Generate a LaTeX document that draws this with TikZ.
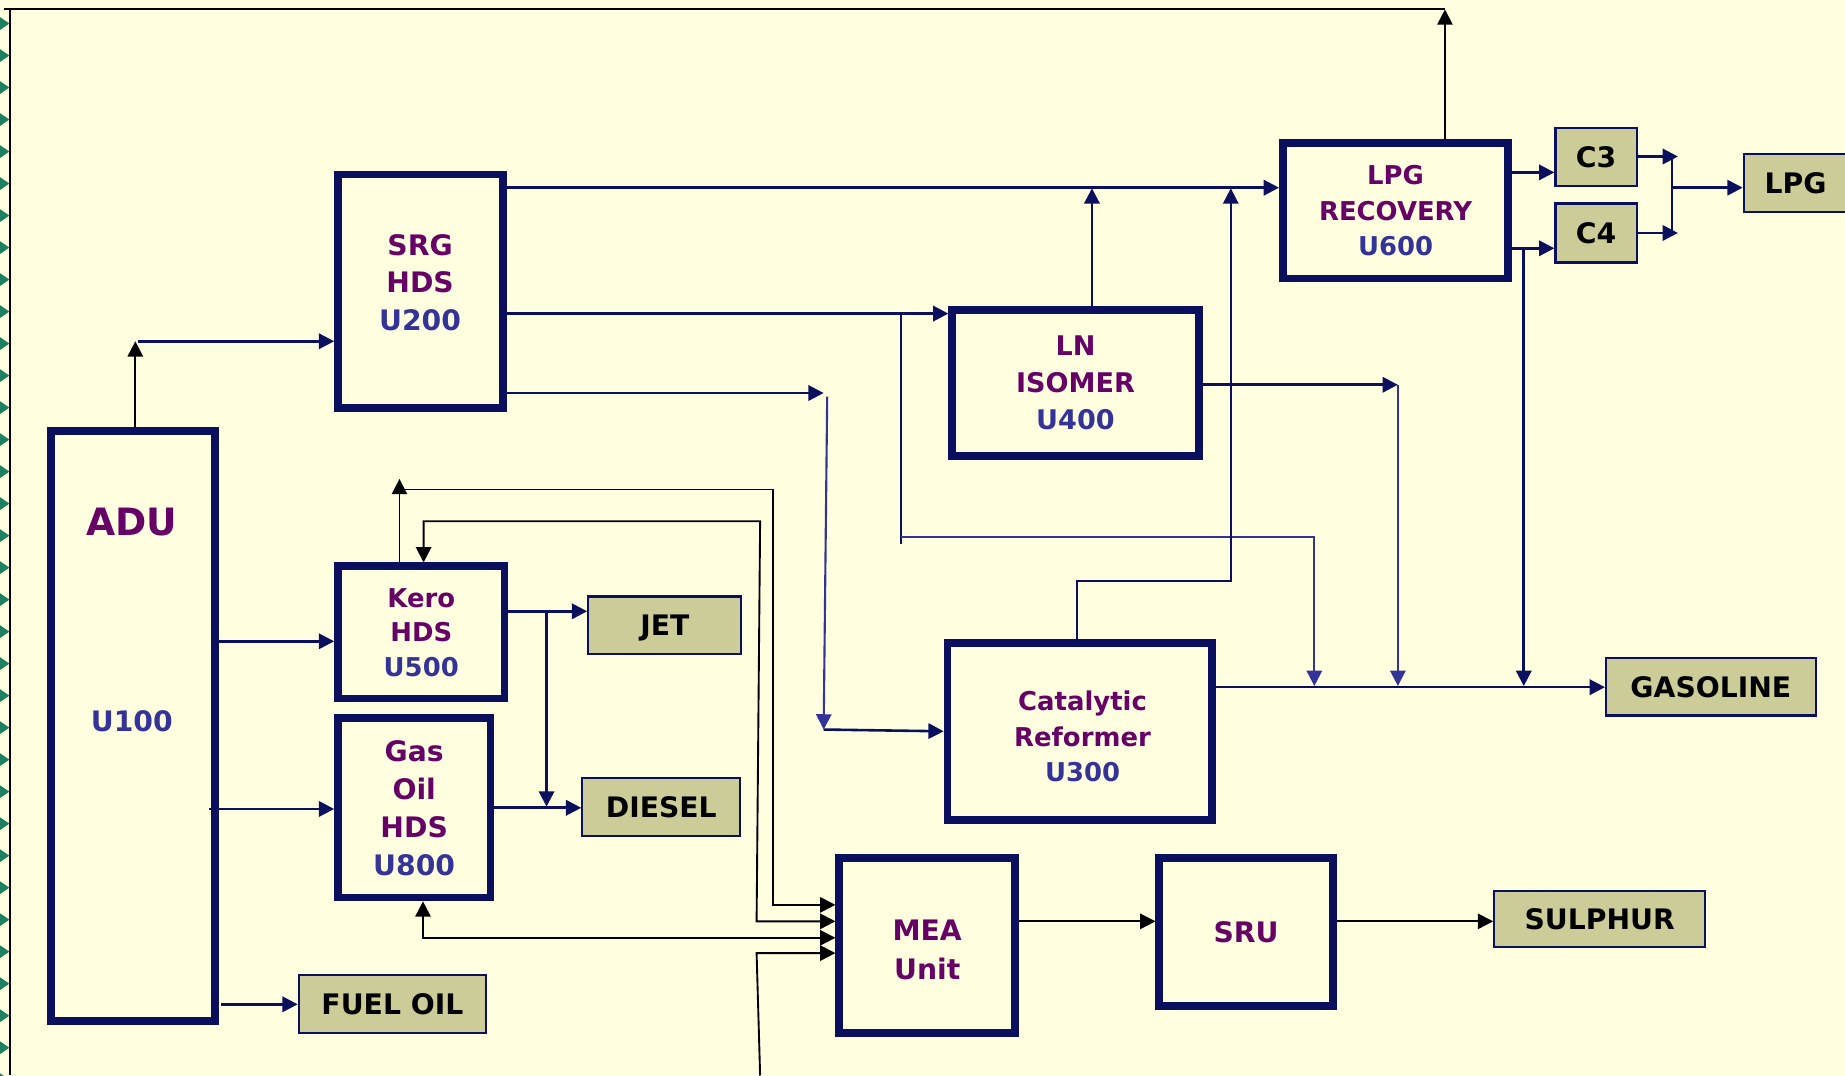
\documentclass[tikz,border=0pt]{standalone}
\usepackage{fontspec}
\setmainfont{DejaVu Sans}
\usetikzlibrary{arrows.meta}
\definecolor{bgc}{RGB}{255,255,224}
\definecolor{navy}{RGB}{10,16,94}
\definecolor{lblue}{RGB}{51,51,153}
\definecolor{purp}{RGB}{102,0,102}
\definecolor{ublue}{RGB}{51,51,153}
\definecolor{khaki}{RGB}{204,204,153}
\definecolor{chev}{RGB}{30,128,96}
\newcommand\myfs[2]{\fontsize{#1}{#2}\selectfont\bfseries}
\begin{document}
\begin{tikzpicture}[x=1pt,y=-1pt,
  unitbox/.style={draw=navy,line width=6.5pt,inner sep=0pt,align=center,text=purp},
  prodbox/.style={draw=navy,line width=1.8pt,fill=khaki,inner sep=0pt,text=black,text depth=0pt,font=\myfs{24}{28}},
  txt/.style={inner sep=0pt,align=center,text=purp},
  tip/.style={-{Triangle[length=13pt,width=13pt]}},
  nv/.style={draw=navy,line width=2.2pt},
  nvar/.style={nv,tip},
  nvthin/.style={draw=navy,line width=1.6pt},
  nvthinar/.style={nvthin,tip},
  lbar/.style={draw=lblue,line width=1.8pt,tip},
  bk/.style={draw=black,line width=1.6pt},
  bkar/.style={bk,tip},
  bkar2/.style={bk,{Triangle[length=13pt,width=13pt]}-{Triangle[length=13pt,width=13pt]}}
]
\useasboundingbox (0,0) rectangle (1568,914);
\fill[bgc] (0,0) rectangle (1568,914);

% left edge chevrons
\foreach \i in {0,...,33}{
  \pgfmathsetmacro\yy{20+27.2*\i}
  \fill[chev] (-3,\yy-7.5) -- (8,\yy) -- (-3,\yy+7.5) -- cycle;
}

% unit boxes
\node[unitbox,minimum width=140.5pt,minimum height=198.5pt] (srg) at (357.5,247.5) {};
\node[txt,font=\myfs{24}{32}] (srgtxt) at (357,240) {SRG\\HDS\\\textcolor{ublue}{U200}};
\node[unitbox,minimum width=139.5pt,minimum height=501.5pt] (adu) at (113,617) {};
\node[txt,font=\myfs{32}{36}] (adutxt) at (112,444) {ADU};
\node[txt,text=ublue,font=\myfs{24}{28}] (u100txt) at (112,613) {U100};
\node[unitbox,minimum width=141.5pt,minimum height=112.5pt,font=\myfs{22}{29.5}] (kero) at (358,537.5) {Kero\\HDS\\\textcolor{ublue}{U500}};
\node[unitbox,minimum width=129.5pt,minimum height=152.5pt,font=\myfs{24}{32.3}] (gasoil) at (352,686.5) {Gas\\Oil\\HDS\\\textcolor{ublue}{U800}};
\node[unitbox,minimum width=209.5pt,minimum height=124.5pt,font=\myfs{23}{31.5}] (ln) at (914,325.5) {LN\\ISOMER\\\textcolor{ublue}{U400}};
\node[unitbox,minimum width=224.5pt,minimum height=150.5pt] (ref) at (917.5,621.5) {};
\node[txt,font=\myfs{22}{30}] (reftxt) at (920,626) {Catalytic\\Reformer\\\textcolor{ublue}{U300}};
\node[unitbox,minimum width=191.5pt,minimum height=115.5pt,font=\myfs{22}{30}] (lpgr) at (1186,179) {LPG\\RECOVERY\\\textcolor{ublue}{U600}};
\node[unitbox,minimum width=149.5pt,minimum height=148.5pt] (mea) at (788,803.5) {};
\node[txt,font=\myfs{24}{33}] (meatxt) at (788,807.5) {MEA\\Unit};
\node[unitbox,minimum width=147.5pt,minimum height=125.5pt,font=\myfs{24}{30}] (sru) at (1059,792) {SRU};

% product boxes
\node[prodbox,minimum width=69.2pt,minimum height=49.2pt] (c3) at (1356.5,133.5) {C3};
\node[prodbox,minimum width=69.2pt,minimum height=50.2pt] (c4) at (1356.5,198) {C4};
\node[prodbox,minimum width=88.2pt,minimum height=49.2pt] (lpg) at (1526,155.5) {LPG};
\node[prodbox,minimum width=130.2pt,minimum height=49.2pt] (jet) at (565,531.5) {JET};
\node[prodbox,minimum width=134.2pt,minimum height=49.2pt] (diesel) at (562,685.5) {DIESEL};
\node[prodbox,minimum width=159.2pt,minimum height=49.2pt] (fuel) at (333.5,853.5) {FUEL OIL};
\node[prodbox,minimum width=178.2pt,minimum height=49.2pt] (gas) at (1454,583.5) {GASOLINE};
\node[prodbox,minimum width=179.2pt,minimum height=48.2pt] (sul) at (1359.5,781) {SULPHUR};

% frame lines (top and left)
\coordinate (top1228) at (1228,8);
\coordinate (topL) at (3,8);
\coordinate (lf) at (8.5,8);
\coordinate (lfb) at (8.5,914);
\draw[bkar] (lpgr.north -| top1228) -- (top1228);
\draw[bk] (top1228) -- (topL);
\draw[bk] (lf) -- (lfb);

% ADU -> SRG
\coordinate (aup) at (115,290);
\coordinate (aup2) at (117,290);
\draw[bkar] (adu.north -| aup) -- (aup);
\draw[nvar] (aup2) -- (srg.west |- aup);

% SRG outputs
\coordinate (y159) at (0,159.5);
\draw[nvar] (srg.east |- y159) -- (lpgr.west |- y159);
\coordinate (y266) at (0,266.5);
\draw[nvar] (srg.east |- y266) -- (ln.west |- y266);
\coordinate (t700) at (700,334);
\draw[nvar] (srg.east |- t700) -- (t700);
\coordinate (v703) at (703,337);
\coordinate (v700) at (700,620);
\draw[lbar] (v703) -- (v700);
\draw[nvar] (v700) -- (ref.west);

% branch to gasoline pool
\coordinate (b766) at (766,266.5);
\coordinate (b766e) at (766,462);
\draw[nvthin] (b766) -- (b766e);
\coordinate (h456a) at (766,456);
\coordinate (h456b) at (1117,456);
\coordinate (g1117) at (1117,583);
\draw[lbar] (h456a) -- (h456b) -- (g1117);

% LN isomer
\coordinate (c928) at (928,160);
\draw[nvar] (ln.north -| c928) -- (c928);
\coordinate (l1188) at (1188,327);
\coordinate (g1188) at (1188,583);
\draw[nvar] (ln.east |- l1188) -- (l1188);
\draw[lbar] (l1188) -- (g1188);

% reformer
\coordinate (r915) at (915.5,493.5);
\coordinate (r1046) at (1046,493.5);
\coordinate (r1046t) at (1046,160);
\draw[nvthinar] (ref.north -| r915) -- (r915) -- (r1046) -- (r1046t);
\coordinate (y584) at (0,584);
\draw[nvar] (ref.east |- y584) -- (gas.west |- y584);

% LPG recovery
\coordinate (y147) at (0,146.5);
\coordinate (y211) at (0,211);
\draw[nvar] (lpgr.east |- y147) -- (c3.west |- y147);
\draw[nvar] (lpgr.east |- y211) -- (c4.west |- y211);
\coordinate (b1295) at (1295,211);
\coordinate (g1295) at (1295,583);
\draw[nvar] (b1295) -- (g1295);
\coordinate (m133) at (1426,133);
\coordinate (m198) at (1426,198);
\draw[nvar] (c3.east |- m133) -- (m133);
\draw[nvar] (c4.east |- m198) -- (m198);
\coordinate (v1421a) at (1421,133);
\coordinate (v1421b) at (1421,198);
\coordinate (v1421m) at (1421,159.5);
\draw[nv] (v1421a) -- (v1421b);
\draw[nvar] (v1421m) -- (lpg.west |- v1421m);

% ADU outputs
\coordinate (y545) at (0,545);
\draw[nvar] (adu.east |- y545) -- (kero.west |- y545);
\coordinate (a178) at (178,687.5);
\draw[nvar] (a178) -- (gasoil.west |- a178);
\coordinate (a188) at (188,853.5);
\draw[nvar] (a188) -- (fuel.west |- a188);

% Kero / gas oil outputs
\coordinate (y519) at (0,519.5);
\draw[nvar] (kero.east |- y519) -- (jet.west |- y519);
\coordinate (k464) at (464.5,519.5);
\coordinate (k464b) at (464.5,685.5);
\draw[nvar] (k464) -- (k464b);
\coordinate (y686) at (0,686.5);
\draw[nvar] (gasoil.east |- y686) -- (diesel.west |- y686);

% sour streams to MEA
\coordinate (k340) at (339.5,407);
\draw[bkar] (kero.north -| k340) -- (k340);
\coordinate (h1a) at (344,416);
\coordinate (h1b) at (657,416);
\coordinate (h1c) at (657,769);
\draw[bkar] (h1a) -- (h1b) -- (h1c) -- (mea.west |- h1c);
\coordinate (h2a) at (360,443);
\coordinate (h2b) at (646,443);
\coordinate (h2c) at (643,783);
\draw[bkar2] (kero.north -| h2a) -- (h2a) -- (h2b) -- (h2c) -- (mea.west |- h2c);
\coordinate (h3a) at (359.5,797);
\draw[bkar2] (gasoil.south -| h3a) -- (h3a) -- (mea.west |- h3a);
\coordinate (h4a) at (646,914);
\coordinate (h4b) at (643,810);
\draw[bkar] (h4a) -- (h4b) -- (mea.west |- h4b);

% MEA -> SRU -> sulphur
\coordinate (y783) at (0,783);
\draw[bkar] (mea.east |- y783) -- (sru.west |- y783);
\draw[bkar] (sru.east |- y783) -- (sul.west |- y783);
\end{tikzpicture}
\end{document}
